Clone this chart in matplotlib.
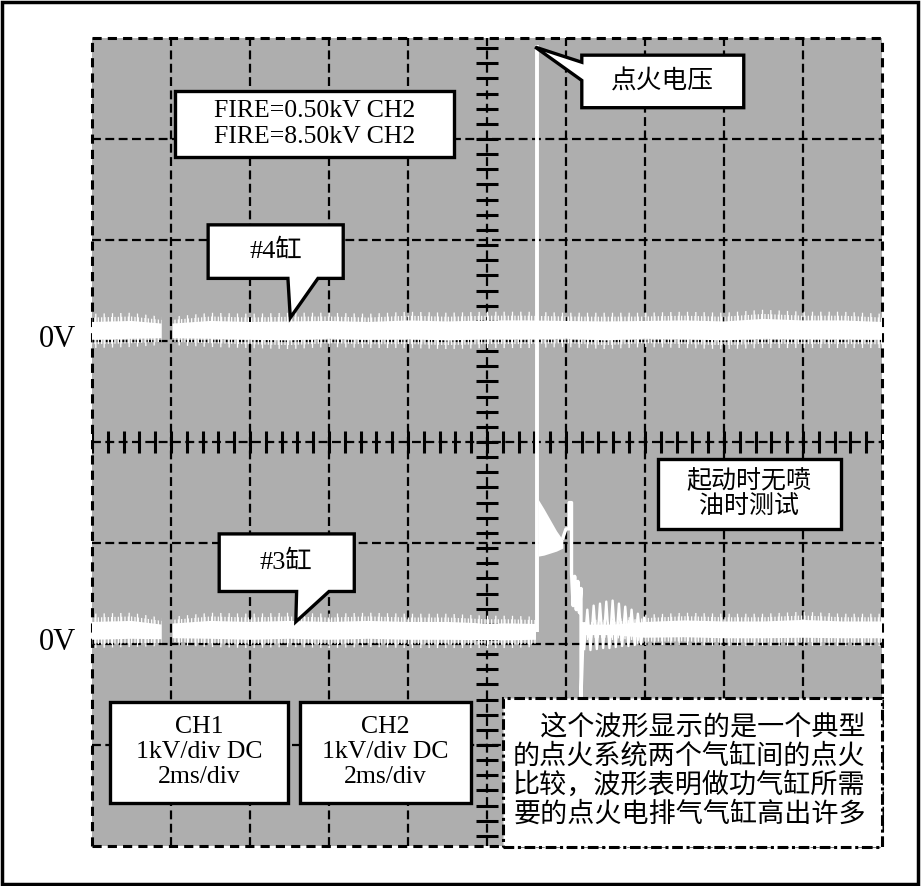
import matplotlib.pyplot as plt
import matplotlib.patches as ptch
import numpy as np

# scope screen is 10 x 8 divisions, everything below is in divisions
nan = np.nan

# CH1 (#4 cylinder) trace: centre level and noise half-height
ch1_x = [0.0, 0.5, 0.88, 0.95, 1.02, 1.5, 2.0, 2.5, 3.0, 3.5, 4.0, 4.5, 5.0,
         5.5, 6.0, 6.5, 7.0, 7.5, 8.0, 8.5, 9.0, 9.5, 10.0]
ch1_level = [1.10, 1.11, 1.10, nan, 1.10, 1.11, 1.10, 1.10, 1.11, 1.10, 1.11, 1.10, 1.11,
             1.11, 1.11, 1.10, 1.11, 1.11, 1.10, 1.12, 1.11, 1.11, 1.10]
ch1_noise = [0.17, 0.17, 0.14, nan, 0.14, 0.17, 0.17, 0.18, 0.17, 0.17, 0.18, 0.18, 0.18,
             0.18, 0.17, 0.18, 0.17, 0.18, 0.18, 0.19, 0.18, 0.18, 0.17]

# CH2 (#3 cylinder) trace, baseline part (gap where the firing event is)
ch2_x = [0.0, 0.5, 0.88, 0.95, 1.02, 1.5, 2.0, 2.5, 3.0, 3.5, 4.0, 4.5, 5.0,
         5.3, 5.62, 5.9, 6.22, 6.6, 7.0, 7.5, 8.0, 8.5, 9.0, 9.5, 10.0]
ch2_level = [-1.87, -1.86, -1.88, nan, -1.87, -1.86, -1.87, -1.86, -1.87, -1.86, -1.87, -1.87, -1.88,
             -1.88, -1.88, nan, -1.86, -1.86, -1.86, -1.85, -1.86, -1.86, -1.85, -1.86, -1.86]
ch2_noise = [0.17, 0.17, 0.14, nan, 0.14, 0.17, 0.17, 0.17, 0.17, 0.17, 0.17, 0.17, 0.16,
             0.16, 0.15, nan, 0.10, 0.10, 0.15, 0.16, 0.16, 0.16, 0.17, 0.16, 0.16]

# firing event on CH2
spike_x = 5.63
spike_top = 3.93
plateau_x = [5.65, 5.72, 5.80, 5.88, 5.96]
plateau_hi = [-0.57, -0.66, -0.77, -0.88, -0.97]
plateau_lo = [-1.13, -1.12, -1.10, -1.08, -1.05]
after_x = [5.96, 6.00, 6.04, 6.04, 6.07, 6.07, 6.09, 6.11, 6.13, 6.15, 6.17, 6.19, 6.19, 6.22]
after_y = [-0.95, -0.86, -0.86, -0.60, -0.60, -1.30, -1.62, -1.33, -1.66, -1.38, -1.69, -1.45, -2.52, -1.80]
ring_x = [6.23, 6.27, 6.31, 6.35, 6.39, 6.43, 6.47, 6.51, 6.55, 6.59, 6.63, 6.67,
          6.71, 6.75, 6.79, 6.83, 6.87, 6.91, 6.95, 6.99]
ring_y = [-2.05, -1.66, -2.06, -1.62, -2.05, -1.60, -2.04, -1.58, -2.04, -1.57, -2.03, -1.60,
          -2.02, -1.63, -2.02, -1.66, -2.01, -1.70, -2.00, -1.74]

zero_labels = [1.01, -1.99]

serif = ['Liberation Serif', 'Noto Sans CJK SC']
cjk = ['Noto Sans CJK SC', 'DejaVu Sans']
plt.rcParams['hatch.linewidth'] = 0.9

fig = plt.figure(figsize=(9.22, 8.86), dpi=100)
ax = fig.add_axes([92/922, 1-846/886, 790/922, 808/886])
ax.set_xlim(0, 10)
ax.set_ylim(-4, 4)
ax.set_facecolor('#aeaeae')
for s in ax.spines.values():
    s.set_visible(False)
ax.set_xticks([])
ax.set_yticks([])

# grid
for xv in range(11):
    edge = xv in (0, 10)
    ax.axvline(xv, color='k', lw=2.2 if edge else 1.6, ls=(0, (3, 2)) if edge else (0, (4, 2)),
               zorder=1, clip_on=False)
for yv in range(-4, 5):
    edge = yv in (-4, 4)
    ax.axhline(yv, color='k', lw=2.2 if edge else 1.6, ls=(0, (3, 2)) if edge else (0, (4, 2)),
               zorder=1, clip_on=False)

# minor ticks on the centre cross
ax.vlines(np.arange(0, 10.01, 0.2), -0.11, 0.11, color='k', lw=2.2, zorder=1)
ax.hlines(np.arange(-26, 27) * 0.15, 4.86, 5.14, color='k', lw=2.2, zorder=1)


def draw_trace(x, level, noise):
    x = np.array(x)
    lv = np.array(level)
    nz = np.array(noise)
    ax.fill_between(x, lv - nz, lv + nz, facecolor='none', edgecolor='white',
                    hatch='||', lw=0, zorder=2)
    ax.fill_between(x, lv - nz * 0.78, lv + nz * 0.78, facecolor='none', edgecolor='white',
                    hatch='|||||', lw=0, zorder=2)
    ax.fill_between(x, lv - nz * 0.52, lv + nz * 0.52, color='white', lw=0, zorder=2)


draw_trace(ch1_x, ch1_level, ch1_noise)
draw_trace(ch2_x, ch2_level, ch2_noise)

ax.plot([spike_x, spike_x], [ch2_level[14], spike_top], color='white', lw=2.8, zorder=2,
        solid_capstyle='butt')
ax.fill_between(plateau_x, plateau_lo, plateau_hi, color='white', lw=0, zorder=2)
ax.plot(after_x, after_y, color='white', lw=2.4, zorder=2)
ax.plot(ring_x, ring_y, color='white', lw=1.7, zorder=2)

for yl in zero_labels:
    ax.text(-0.2, yl, '0V', ha='right', va='center', fontsize=22, family=serif, clip_on=False)


def box(x0, y0, x1, y1, text, fam, size, ls=1.1):
    ax.add_patch(ptch.Rectangle((x0, y0), x1 - x0, y1 - y0, facecolor='white',
                                edgecolor='k', lw=2.4, zorder=5))
    ax.text((x0 + x1) / 2, (y0 + y1) / 2, text, ha='center', va='center', fontsize=size,
            family=fam, linespacing=ls, zorder=6)


def callout(pts, cx, cy, text, fam, size):
    ax.add_patch(ptch.Polygon(pts, closed=True, facecolor='white', edgecolor='k',
                              lw=2.4, zorder=5, joinstyle='miter'))
    ax.text(cx, cy, text, ha='center', va='center', fontsize=size, family=fam, zorder=6)


box(1.05, 2.82, 4.58, 3.48, 'FIRE=0.50kV CH2\nFIRE=8.50kV CH2', serif, 18.5, 1.2)
box(7.16, -0.86, 9.48, -0.17, '起动时无喷\n油时测试', cjk, 18, 0.95)
box(0.23, -3.57, 2.48, -2.57, 'CH1\n1kV/div DC\n2ms/div', serif, 18.5, 1.2)
box(2.63, -3.57, 4.80, -2.57, 'CH2\n1kV/div DC\n2ms/div', serif, 18.5, 1.2)

callout([(1.47, 2.15), (3.18, 2.15), (3.18, 1.62), (2.86, 1.62), (2.51, 1.23),
         (2.48, 1.62), (1.47, 1.62)], 2.33, 1.89, '#4缸', serif, 19)
callout([(1.61, -0.91), (3.32, -0.91), (3.32, -1.48), (3.00, -1.48), (2.58, -1.78),
         (2.59, -1.48), (1.61, -1.48)], 2.46, -1.19, '#3缸', serif, 19)
callout([(6.20, 3.83), (8.25, 3.83), (8.25, 3.31), (6.20, 3.31), (6.20, 3.58),
         (5.61, 3.91), (6.20, 3.76)], 7.22, 3.57, '点火电压', cjk, 18.5)

# description box with dash-dot border
ax.add_patch(ptch.Rectangle((5.20, -4.01), 4.80, 1.48, facecolor='white', edgecolor='k',
                            lw=2.2, ls=(0, (3.5, 1.2, 1, 1.2)), zorder=5, clip_on=False))
desc = ('\u3000这个波形显示的是一个典型\n的点火系统两个气缸间的点火\n'
        '比较，波形表明做功气缸所需\n要的点火电排气气缸高出许多')
ax.text(5.33, -3.25, desc, ha='left', va='center', fontsize=19.5, family=cjk,
        linespacing=1.1, zorder=6)

fig.add_artist(ptch.Rectangle((2/922, 2/886), 916/922, 882/886, transform=fig.transFigure,
                              fill=False, lw=2.5, edgecolor='k'))

fig.savefig('out.png', dpi=100)
